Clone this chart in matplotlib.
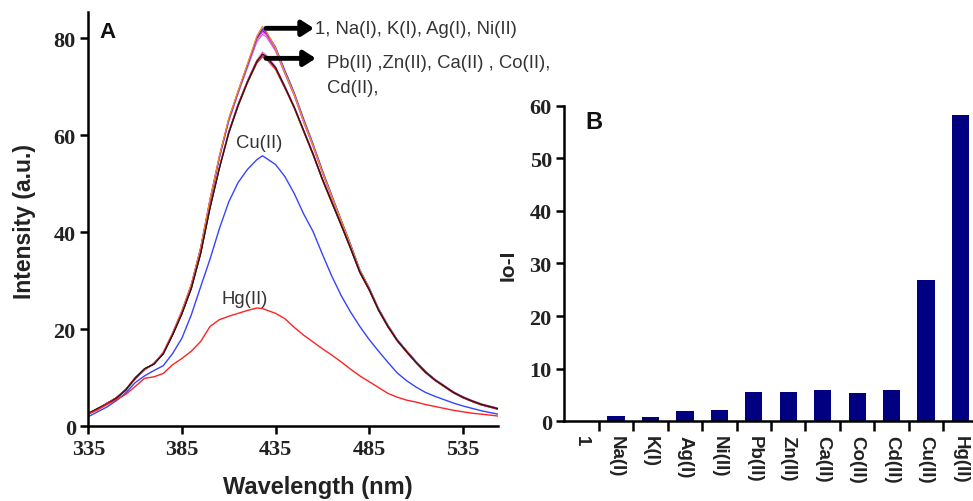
import matplotlib
matplotlib.use("Agg")
import matplotlib.pyplot as plt
from matplotlib.ticker import MultipleLocator, FixedLocator

# ---------------- Panel A data ----------------
wavelength = [335, 340, 345, 350, 355, 360, 365, 370, 375, 380, 385, 390, 395, 400,
              405, 410, 415, 420, 425, 428, 430, 435, 440, 445, 450, 455, 460, 465,
              470, 475, 480, 485, 490, 495, 500, 505, 510, 515, 520, 525, 530, 535,
              540, 545, 550, 554]

I_ligand = [2.7, 3.6, 4.7, 5.8, 7.5, 9.8, 11.7, 12.9, 15.2, 19.2, 23.8, 29.2, 36.8, 46.8,
            55.8, 63.5, 69.2, 74.8, 80.5, 82.5, 81.5, 78.0, 73.0, 68.5, 63.0, 58.0, 52.5, 47.5,
            42.5, 37.5, 32.2, 28.5, 24.2, 20.8, 17.8, 15.5, 13.3, 11.3, 9.6, 8.3, 7.0, 6.0,
            5.2, 4.5, 4.0, 3.6]
I_Na = [2.6, 3.7, 4.6, 5.9, 7.4, 9.9, 11.6, 13.0, 15.0, 19.0, 23.6, 29.0, 36.6, 46.5,
        55.5, 63.2, 69.0, 74.5, 80.2, 82.0, 81.3, 78.2, 73.4, 68.8, 63.4, 58.3, 52.8, 47.7,
        42.6, 37.6, 32.3, 28.6, 24.3, 20.9, 17.9, 15.6, 13.4, 11.4, 9.7, 8.4, 7.1, 6.1,
        5.3, 4.6, 4.1, 3.7]
I_K = [2.7, 3.5, 4.8, 5.8, 7.6, 9.7, 11.8, 12.8, 15.1, 19.1, 23.7, 29.1, 36.7, 46.6,
       55.6, 63.3, 69.1, 74.6, 80.0, 81.6, 81.0, 77.8, 72.9, 68.4, 62.9, 57.9, 52.4, 47.4,
       42.4, 37.4, 32.1, 28.4, 24.1, 20.7, 17.7, 15.4, 13.2, 11.2, 9.6, 8.2, 7.0, 6.0,
       5.2, 4.5, 4.0, 3.6]
I_Ag = [2.8, 3.6, 4.7, 5.7, 7.5, 9.8, 11.7, 12.9, 15.3, 19.3, 23.9, 29.3, 36.9, 46.9,
        55.7, 63.4, 69.0, 74.4, 79.8, 81.3, 80.8, 77.6, 72.8, 68.3, 62.8, 57.8, 52.3, 47.3,
        42.4, 37.4, 32.1, 28.4, 24.1, 20.7, 17.8, 15.5, 13.3, 11.3, 9.6, 8.3, 7.0, 6.0,
        5.2, 4.5, 4.0, 3.6]
I_Ni = [2.7, 3.6, 4.7, 5.8, 7.5, 9.8, 11.7, 12.9, 15.2, 19.2, 23.8, 29.2, 36.8, 46.7,
        55.4, 62.9, 68.6, 74.0, 79.3, 80.8, 80.4, 77.4, 72.7, 68.2, 62.8, 57.8, 52.3, 47.3,
        42.3, 37.3, 32.0, 28.3, 24.1, 20.7, 17.7, 15.4, 13.2, 11.2, 9.5, 8.2, 6.9, 5.9,
        5.1, 4.4, 3.9, 3.5]

I_Pb = [2.7, 3.6, 4.7, 5.9, 7.6, 10.0, 11.8, 12.9, 15.0, 18.9, 23.3, 28.5, 35.8, 45.3,
        53.5, 60.8, 66.5, 71.3, 75.5, 77.2, 76.6, 74.2, 70.2, 66.0, 61.2, 56.4, 51.2, 46.5,
        41.8, 37.0, 31.9, 28.3, 24.1, 20.7, 17.8, 15.5, 13.3, 11.3, 9.7, 8.4, 7.1, 6.1,
        5.3, 4.6, 4.1, 3.7]
I_Zn = [2.6, 3.7, 4.6, 5.8, 7.5, 9.9, 11.9, 12.8, 14.9, 18.8, 23.2, 28.4, 35.6, 45.0,
        53.2, 60.5, 66.2, 71.0, 75.2, 76.8, 76.3, 74.0, 70.0, 65.8, 61.0, 56.2, 51.0, 46.3,
        41.6, 36.8, 31.8, 28.2, 24.0, 20.6, 17.7, 15.4, 13.2, 11.2, 9.6, 8.3, 7.0, 6.0,
        5.2, 4.5, 4.0, 3.6]
I_Ca = [2.7, 3.6, 4.8, 5.9, 7.6, 10.0, 11.8, 12.9, 15.0, 18.9, 23.3, 28.6, 35.9, 45.2,
        53.4, 60.6, 66.3, 71.1, 75.3, 76.6, 76.1, 73.8, 69.9, 65.7, 60.9, 56.1, 50.9, 46.2,
        41.5, 36.7, 31.7, 28.1, 23.9, 20.5, 17.6, 15.3, 13.1, 11.1, 9.5, 8.2, 6.9, 5.9,
        5.1, 4.4, 3.9, 3.5]
I_Co = [2.7, 3.6, 4.7, 5.9, 7.6, 10.0, 11.8, 12.9, 15.0, 18.9, 23.3, 28.5, 35.7, 45.1,
        53.3, 60.4, 66.0, 70.8, 74.9, 76.2, 75.8, 73.6, 69.7, 65.6, 60.8, 56.0, 50.8, 46.1,
        41.5, 36.7, 31.7, 28.1, 23.9, 20.5, 17.6, 15.3, 13.1, 11.1, 9.5, 8.2, 6.9, 5.9,
        5.1, 4.4, 3.9, 3.5]
I_Cd = [2.7, 3.6, 4.7, 5.9, 7.6, 10.0, 11.8, 12.9, 15.0, 18.9, 23.3, 28.5, 35.8, 45.2,
        53.4, 60.7, 66.4, 71.2, 75.4, 76.5, 76.0, 73.9, 69.9, 65.7, 60.9, 56.1, 50.9, 46.2,
        41.6, 36.8, 31.8, 28.2, 24.0, 20.6, 17.7, 15.4, 13.2, 11.2, 9.6, 8.3, 7.0, 6.0,
        5.2, 4.5, 4.0, 3.6]

I_Cu = [2.0, 3.0, 4.0, 5.3, 6.9, 9.0, 10.4, 11.5, 12.5, 15.0, 18.2, 23.0, 28.8, 34.5,
        40.8, 46.3, 50.3, 53.0, 55.0, 55.8, 55.3, 54.0, 51.5, 48.0, 43.8, 40.2, 35.5, 31.0,
        27.0, 23.6, 20.6, 17.9, 15.5, 13.2, 11.0, 9.4, 8.1, 7.0, 6.2, 5.5, 4.8, 4.2,
        3.7, 3.2, 2.8, 2.5]
I_Hg = [2.5, 3.4, 4.5, 5.5, 6.6, 8.2, 9.9, 10.2, 10.9, 12.7, 14.0, 15.5, 17.5, 20.6,
        22.0, 22.7, 23.3, 23.9, 24.4, 24.3, 24.0, 23.3, 22.2, 20.4, 18.8, 17.4, 16.0, 14.7,
        13.3, 11.8, 10.4, 9.2, 8.0, 6.8, 6.0, 5.4, 5.0, 4.5, 4.1, 3.7, 3.3, 3.0,
        2.7, 2.5, 2.3, 2.1]

# ---------------- Panel B data ----------------
ions_B = ["1", "Na(I)", "K(I)", "Ag(I)", "Ni(II)", "Pb(II)", "Zn(II)", "Ca(II)",
          "Co(II)", "Cd(II)", "Cu(II)", "Hg(II)"]
quench_B = [0.0, 1.0, 0.9, 1.9, 2.2, 5.6, 5.6, 5.9, 5.3, 5.9, 26.8, 58.3]

SANS = ["Liberation Sans", "DejaVu Sans"]
SERIF = ["Liberation Serif", "DejaVu Serif"]

fig = plt.figure(figsize=(9.73, 5.02), dpi=100)

# ---------------- Panel A ----------------
axA = fig.add_axes([0.0908, 0.1488, 0.4214, 0.8247])
groupA = [
    (I_K, "#9900CC"), (I_Ag, "#FF33FF"), (I_Ni, "#CC66CC"), (I_Na, "#3333CC"),
    (I_ligand, "#FF8C1A"),
    (I_Pb, "#FF66CC"), (I_Cd, "#E00000"), (I_Ca, "#777777"), (I_Co, "#FF2020"),
    (I_Zn, "#1A1A1A"),
]
for vals, col in groupA:
    axA.plot(wavelength, vals, color=col, lw=0.9)
axA.plot(wavelength, I_Cu, color="#3344FF", lw=1.0)
axA.plot(wavelength, I_Hg, color="#FF2222", lw=1.0)

axA.set_xlim(335, 554)
axA.set_ylim(0, 85.4)
axA.xaxis.set_major_locator(FixedLocator([335, 385, 435, 485, 535]))
axA.yaxis.set_major_locator(MultipleLocator(20))
for s in ["top", "right"]:
    axA.spines[s].set_visible(False)
for s in ["left", "bottom"]:
    axA.spines[s].set_linewidth(1.8)
axA.tick_params(direction="out", length=6, width=1.8, pad=3)
for lab in axA.get_xticklabels() + axA.get_yticklabels():
    lab.set_fontfamily(SERIF)
    lab.set_fontweight("bold")
    lab.set_fontsize(16)
    lab.set_color("#222222")

axA.set_xlabel("Wavelength (nm)", fontfamily=SANS, fontweight="bold", fontsize=17,
               color="#222222")
axA.xaxis.set_label_coords(0.56, -0.118)
axA.set_ylabel("Intensity (a.u.)", fontfamily=SANS, fontweight="bold", fontsize=16.5,
               color="#222222")
axA.yaxis.set_label_coords(-0.128, 0.498)

axA.text(0.028, 0.953, "A", transform=axA.transAxes, fontfamily=SANS,
         fontweight="bold", fontsize=16, va="center", ha="left", color="#111111")

# arrows and labels
arrow_kw = dict(arrowstyle="-|>,head_length=0.7,head_width=0.45", color="black", lw=3.5,
                shrinkA=0, shrinkB=0)
axA.annotate("", xy=(455.5, 82.1), xytext=(429.9, 82.1), arrowprops=arrow_kw,
             annotation_clip=False)
axA.annotate("", xy=(456.5, 75.9), xytext=(429.9, 75.9), arrowprops=arrow_kw,
             annotation_clip=False)
txt_kw = dict(fontfamily=SANS, fontsize=13.3, color="#333333", va="center",
              clip_on=False)
axA.text(455.8, 82.0, "1, Na(I), K(I), Ag(I), Ni(II)", ha="left", **txt_kw)
axA.text(462.5, 75.0, "Pb(II) ,Zn(II), Ca(II) , Co(II),", ha="left", **txt_kw)
axA.text(462.5, 69.8, "Cd(II),", ha="left", **txt_kw)
axA.text(426.2, 58.6, "Cu(II)", ha="center", **txt_kw)
axA.text(418.7, 26.3, "Hg(II)", ha="center", **txt_kw)

# ---------------- Panel B ----------------
axB = fig.add_axes([0.58, 0.1588, 0.4248, 0.6287])
xpos = list(range(len(ions_B)))
axB.bar(xpos, quench_B, width=0.5, color="#000080")
axB.set_xlim(-0.5, len(ions_B) - 0.5)
axB.set_ylim(0, 60)
axB.yaxis.set_major_locator(MultipleLocator(10))
axB.set_xticks(xpos)
axB.set_xticklabels(ions_B, rotation=270, fontfamily=SANS, fontweight="bold",
                    fontsize=13.5, color="#222222")
axB.set_xticks([i + 0.5 for i in xpos[:-1]], minor=True)
axB.tick_params(axis="x", which="major", length=0, pad=10)
axB.tick_params(axis="x", which="minor", direction="out", length=7, width=1.8)
axB.tick_params(axis="y", direction="out", length=6, width=1.8, pad=3)
for lab in axB.get_yticklabels():
    lab.set_fontfamily(SERIF)
    lab.set_fontweight("bold")
    lab.set_fontsize(16)
    lab.set_color("#222222")
for s in ["top", "right"]:
    axB.spines[s].set_visible(False)
for s in ["left", "bottom"]:
    axB.spines[s].set_linewidth(1.8)
axB.set_ylabel("Io-I", fontfamily=SANS, fontweight="bold", fontsize=15, color="#222222")
axB.yaxis.set_label_coords(-0.112, 0.498)
axB.text(0.05, 0.95, "B", transform=axB.transAxes, fontfamily=SANS,
         fontweight="bold", fontsize=17, va="center", ha="left", color="#111111")

fig.savefig("out.png", dpi=100)
